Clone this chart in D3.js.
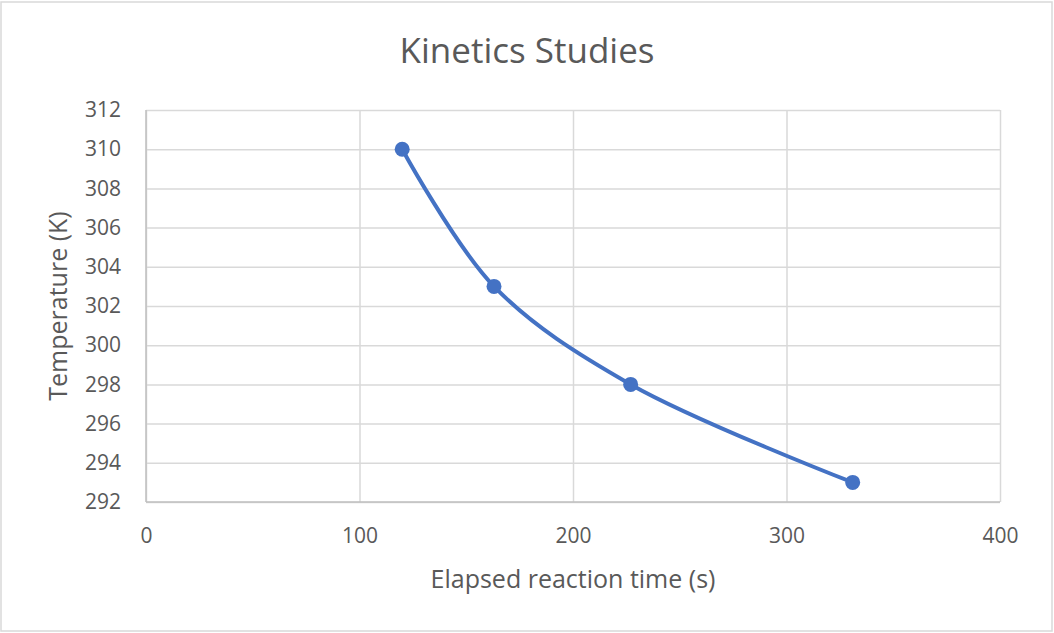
<!DOCTYPE html>
<html><head><meta charset="utf-8">
<script src="https://cdn.jsdelivr.net/npm/d3@7"></script>
<style>body{margin:0;background:#fff}svg{display:block}</style>
</head><body>
<svg id="c" width="1054" height="633"></svg>
<script>
const timeValues = [120, 163, 227, 331];
const tempValues = [310, 303, 298, 293];
const xTicks = [0, 100, 200, 300, 400];
const yTicks = [292, 294, 296, 298, 300, 302, 304, 306, 308, 310, 312];
const chartTitle = "Kinetics Studies";
const xTitle = "Elapsed reaction time (s)";
const yTitle = "Temperature (K)";

const svg = d3.select("#c");
const W = 1054, H = 633;
const font = "'Open Sans', 'Noto Sans', sans-serif";
const m = {l:146, r:1000, t:110, b:502};

svg.append("rect").attr("x",1).attr("y",2).attr("width",W-3).attr("height",H-4)
  .attr("fill","#fff").attr("stroke","#d9d9d9").attr("stroke-width",1.5);

const x = d3.scaleLinear().domain([0,400]).range([m.l,m.r]);
const y = d3.scaleLinear().domain([292,312]).range([m.b,m.t]);

// gridlines
const gx = svg.append("g").attr("transform",`translate(0,${m.b})`)
  .call(d3.axisBottom(x).tickValues(xTicks).tickSize(-(m.b-m.t)).tickFormat(""));
gx.select(".domain").remove();
gx.selectAll("line").attr("stroke","#d9d9d9").attr("stroke-width",1.5);
const gy = svg.append("g").attr("transform",`translate(${m.l},0)`)
  .call(d3.axisLeft(y).tickValues(yTicks).tickSize(-(m.r-m.l)).tickFormat(""));
gy.select(".domain").remove();
gy.selectAll("line").attr("stroke","#d9d9d9").attr("stroke-width",1.5);

// axis lines
svg.append("line").attr("x1",m.l).attr("x2",m.l).attr("y1",m.t).attr("y2",m.b).attr("stroke","#bfbfbf").attr("stroke-width",1.5);
svg.append("line").attr("x1",m.l).attr("x2",m.r).attr("y1",m.b).attr("y2",m.b).attr("stroke","#bfbfbf").attr("stroke-width",1.5);

// tick labels
const ax = svg.append("g").attr("transform",`translate(0,${m.b})`)
  .call(d3.axisBottom(x).tickValues(xTicks).tickSize(0).tickPadding(26).tickFormat(d3.format("d")));
ax.select(".domain").remove();
ax.selectAll("text").attr("font-family",font).attr("font-size",21).attr("fill","#595959");
const ay = svg.append("g").attr("transform",`translate(${m.l},0)`)
  .call(d3.axisLeft(y).tickValues(yTicks).tickSize(0).tickPadding(25).tickFormat(d3.format("d")));
ay.select(".domain").remove();
ay.selectAll("text").attr("font-family",font).attr("font-size",21).attr("fill","#595959");

// titles
svg.append("text").attr("x",527).attr("y",63).attr("text-anchor","middle")
  .attr("font-family",font).attr("font-size",35).attr("fill","#595959").text(chartTitle);
svg.append("text").attr("x",573).attr("y",588).attr("text-anchor","middle")
  .attr("font-family",font).attr("font-size",25).attr("fill","#595959").text(xTitle);
svg.append("text").attr("transform",`translate(67,${(m.t+m.b)/2}) rotate(-90)`).attr("text-anchor","middle")
  .attr("font-family",font).attr("font-size",25).attr("fill","#595959").text(yTitle);

// data
const data = timeValues.map((t,i)=>({t, v:tempValues[i]}));
const line = d3.line().x(d=>x(d.t)).y(d=>y(d.v)).curve(d3.curveCatmullRom.alpha(0.5));
svg.append("path").datum(data).attr("d",line).attr("fill","none")
  .attr("stroke","#4472C4").attr("stroke-width",4).attr("stroke-linecap","round");
svg.selectAll("circle.pt").data(data).enter().append("circle").attr("class","pt")
  .attr("cx",d=>x(d.t)).attr("cy",d=>y(d.v)).attr("r",7.5).attr("fill","#4472C4");
</script>
</body></html>
